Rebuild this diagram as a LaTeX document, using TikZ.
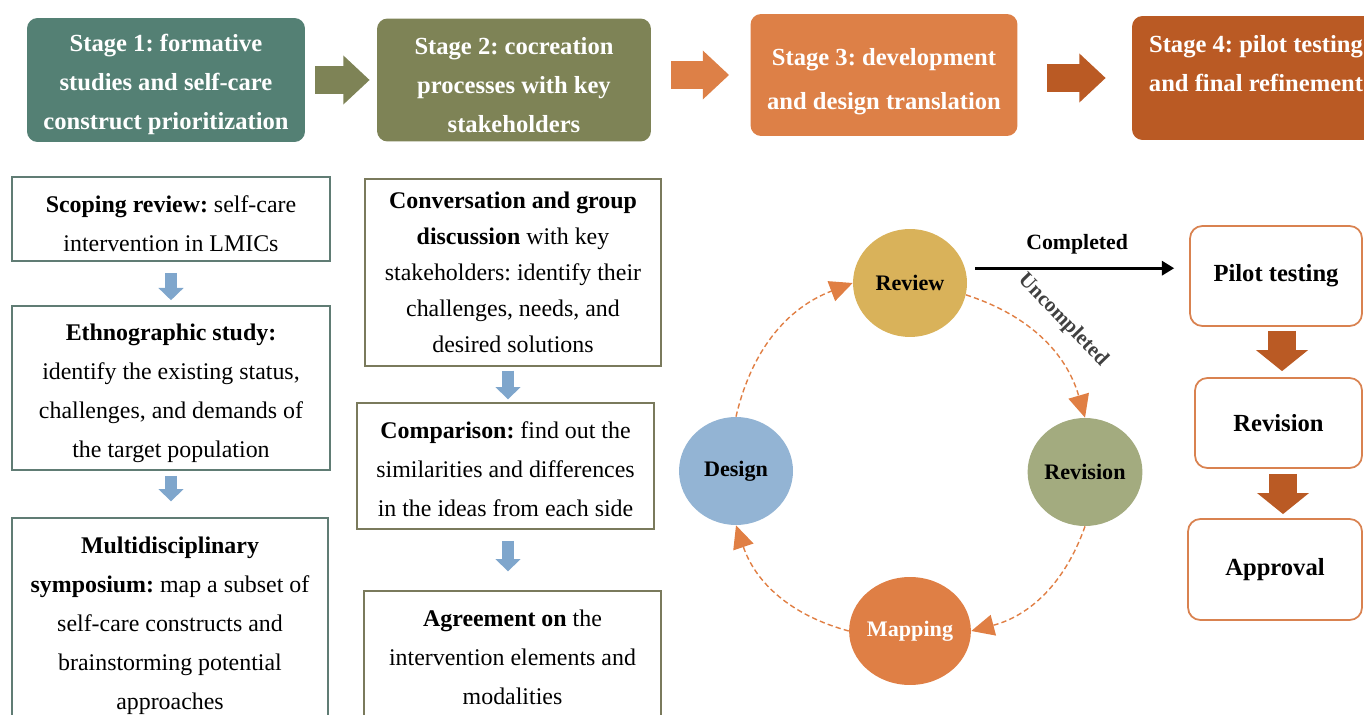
\documentclass[tikz,border=0pt]{standalone}
\usepackage{fontspec}
\setmainfont{Liberation Serif}
\usetikzlibrary{arrows.meta, calc, positioning, shapes.geometric}
\frenchspacing
\newcommand{\toplift}[1]{\rule{0pt}{#1}}
\definecolor{Stage-teal}{RGB}{84,128,116}
\definecolor{Stage-olive}{RGB}{126,131,86}
\definecolor{Stage-orange}{RGB}{221,128,71}
\definecolor{Stage-rust}{RGB}{186,90,36}
\definecolor{Box-teal}{RGB}{96,124,116}
\definecolor{Box-olive}{RGB}{122,122,92}
\definecolor{Arrow-blue}{RGB}{127,166,204}
\definecolor{Cycle-orange}{RGB}{224,127,68}
\definecolor{Phase-gold}{RGB}{217,178,90}
\definecolor{Phase-blue}{RGB}{147,180,212}
\definecolor{Phase-green}{RGB}{163,171,127}
\definecolor{Phase-orange}{RGB}{223,127,69}
\definecolor{Refine-orange}{RGB}{217,130,80}
\tikzset{%
    stage/.style={%
        rectangle,
        rounded corners=6pt,
        text=white,
        inner sep=2pt,
        font=\fontsize{14}{22.2}\selectfont\bfseries,
        align=center,
    },
    stagearrow/.style={%
        line width=16pt,
        -{Triangle[length=15pt, width=27pt]},
    },
    stepbox/.style={%
        rectangle,
        draw=Box-teal,
        line width=0.8pt,
        fill=white,
        inner sep=2pt,
        font=\fontsize{13.6}{22.2}\selectfont,
        align=center,
    },
    smallarrow/.style={%
        Arrow-blue,
        line width=7pt,
        -{Triangle[length=7pt, width=14pt]},
    },
    phase/.style={%
        ellipse,
        minimum width=2.28cm,
        minimum height=2.16cm,
        inner sep=0pt,
        font=\fontsize{12.6}{15}\selectfont\bfseries,
    },
    cycle/.style={%
        Cycle-orange,
        line width=0.8pt,
        dash pattern=on 3pt off 1.8pt,
        -{Triangle[length=13pt, width=12pt]},
    },
    refine/.style={%
        rectangle,
        rounded corners=7pt,
        draw=Refine-orange,
        line width=1pt,
        fill=white,
        font=\fontsize{14}{17}\selectfont\bfseries,
    },
    fatarrow/.style={%
        Stage-rust,
        line width=16pt,
        -{Triangle[length=12pt, width=29pt]},
    },
}
\begin{document}
\begin{tikzpicture}[x=0.02cm, y=-0.02cm]
  \useasboundingbox (0,0) rectangle (1364,715);

  % stages
  \node [stage, fill=Stage-teal, minimum width=5.56cm, minimum height=2.48cm] at (166,80) (stage1)
    {\toplift{15.4pt}Stage 1: formative\\studies and self-care\\construct prioritization};
  \node [stage, fill=Stage-olive, minimum width=5.48cm, minimum height=2.46cm] at (514,80) (stage2)
    {\toplift{15.4pt}Stage 2: cocreation\\processes with key\\stakeholders};
  \node [stage, fill=Stage-orange, minimum width=5.34cm, minimum height=2.44cm,
         font=\fontsize{14}{25}\selectfont\bfseries] at (884,75) (stage3)
    {\toplift{17.7pt}Stage 3: development\\and design translation};
  \node [stage, fill=Stage-rust, minimum width=4.96cm, minimum height=2.48cm] at (1256,78) (stage4)
    {\toplift{15.4pt}Stage 4: pilot testing\\and final refinement\\\mbox{}};

  \draw[stagearrow, Stage-olive, shorten <=5.7pt, shorten >=4pt] (stage1.east) -- (stage1.east -| stage2.west);
  \draw[stagearrow, Stage-orange, shorten <=11.4pt, shorten >=12pt] (stage2.east |- stage3.west) -- (stage3.west);
  \draw[stagearrow, Stage-rust, shorten <=16.5pt, shorten >=14.8pt] (stage4.west -| stage3.east) -- (stage4.west);

  % stage 1 column
  \node [stepbox, minimum width=6.36cm, minimum height=1.68cm] at (171,219) (scoping)
    {\toplift{15pt}\textbf{Scoping review:} self-care\\intervention in LMICs};
  \node [stepbox, minimum width=6.36cm, minimum height=3.28cm] at (171,388) (ethno)
    {\toplift{15pt}\textbf{Ethnographic study:}\\identify the existing status,\\challenges, and demands of\\the target population};
  \node [stepbox, minimum width=6.32cm, minimum height=4.22cm] at (170,623.5) (symposium)
    {\toplift{12.1pt}\textbf{Multidisciplinary}\\\textbf{symposium:} map a subset of\\self-care constructs and\\brainstorming potential\\approaches};

  \draw[smallarrow, shorten <=6.3pt, shorten >=2.9pt] (scoping.south) -- (scoping.south |- ethno.north);
  \draw[smallarrow, shorten <=2.9pt, shorten >=9.1pt] (ethno.south) -- (ethno.south |- symposium.north);

  % stage 2 column
  \node [stepbox, draw=Box-olive, minimum width=5.92cm, minimum height=3.74cm,
         font=\fontsize{13.6}{20.5}\selectfont] at (513,272.5) (conversation)
    {\textbf{Conversation and group}\\\textbf{discussion} with key\\stakeholders: identify their\\challenges, needs, and\\desired solutions};
  \node [stepbox, draw=Box-olive, minimum width=5.94cm, minimum height=2.52cm] at (505.5,466) (comparison)
    {\toplift{12.7pt}\textbf{Comparison:} find out the\\similarities and differences\\in the ideas from each side};
  \node [stepbox, draw=Box-olive, minimum width=5.94cm, minimum height=2.66cm] at (512.5,657.5) (agreement)
    {\textbf{Agreement on} the\\intervention elements and\\modalities};

  \draw[smallarrow, shorten <=2.3pt, shorten >=1.7pt] ($(conversation.south)+(-5,0)$) -- ($(conversation.south |- comparison.north)+(-5,0)$);
  \draw[smallarrow, shorten <=6.3pt, shorten >=10.8pt] ($(comparison.south)+(2.5,0)$) -- ($(comparison.south |- agreement.north)+(2.5,0)$);

  % stage 3 cycle
  \node [phase, fill=Phase-gold] at (910,283) (review) {Review};
  \node [phase, fill=Phase-blue] at (736,471) (design) {Design};
  \node [phase, fill=Phase-green] at (1085,472) (revision) {Revision};
  \node [phase, fill=Phase-orange, text=white] at (910,631) (mapping) {Mapping};

  \draw[cycle] (design.north) to[bend left=28] (review.west);
  \draw[cycle] (review.-12) to[bend left=28]
    node[sloped, above=7pt, pos=0.5, text=black!75, font=\fontsize{12}{14}\selectfont\bfseries] {Uncompleted}
    (revision.north);
  \draw[cycle] (revision.south) to[bend left=28] (mapping.east);
  \draw[cycle] (mapping.west) to[bend left=28] (design.south);

  % stage 4 column
  \node [refine, minimum width=3.44cm, minimum height=2.0cm] at (1276,276) (pilot) {Pilot testing};
  \node [refine, minimum width=3.34cm, minimum height=1.8cm] at (1278.5,423) (revbox) {Revision};
  \node [refine, minimum width=3.48cm, minimum height=2.02cm] at (1275,569.5) (approval) {Approval};

  \draw[line width=1.7pt, -{Triangle[length=7pt, width=8pt]}, shorten <=5.7pt, shorten >=8.5pt]
    (review.15) -- node[above=4pt, font=\fontsize{12.4}{14}\selectfont\bfseries] {Completed} (review.15 -| pilot.west);

  \draw[fatarrow, shorten <=2.3pt, shorten >=3.4pt] ($(pilot.south)+(6,0)$) -- ($(pilot.south |- revbox.north)+(6,0)$);
  \draw[fatarrow, shorten <=2.9pt, shorten >=2.3pt] ($(revbox.south)+(4.5,0)$) -- ($(revbox.south |- approval.north)+(4.5,0)$);
\end{tikzpicture}
\end{document}
